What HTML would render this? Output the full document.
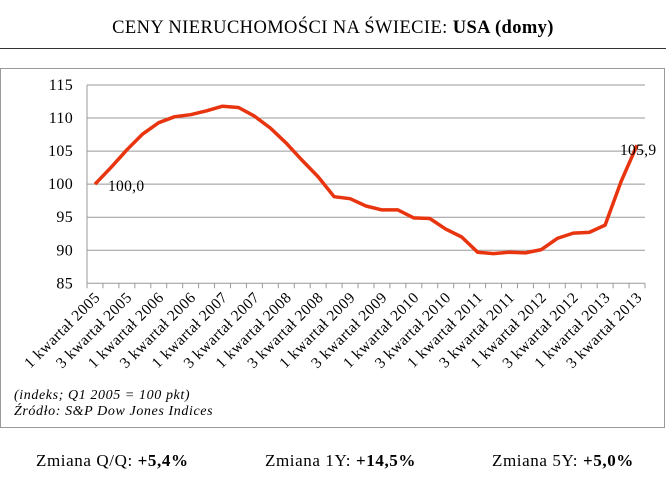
<!DOCTYPE html>
<html><head><meta charset="utf-8"><style>
body{margin:0;background:#fff;width:666px;height:479px;overflow:hidden;font-family:"Liberation Serif",serif;}
</style></head><body>
<svg width="666" height="479" xmlns="http://www.w3.org/2000/svg">
<text x="333" y="33" text-anchor="middle" font-size="18.5" letter-spacing="0.4">CENY NIERUCHOMOŚCI NA ŚWIECIE: <tspan font-weight="bold">USA (domy)</tspan></text>
<line x1="0" y1="48.5" x2="666" y2="48.5" stroke="#333" stroke-width="1"/>
<rect x="0.5" y="68.5" width="664" height="359" fill="none" stroke="#999"/>
<g id="grid"></g><g id="xlabels"></g>
<polyline id="series" fill="none" stroke="#e8340f" stroke-width="3.5" stroke-linejoin="round"/>
<text x="108" y="191" font-size="15.5" letter-spacing="0.3">100,0</text>
<text x="620" y="155" font-size="15.5" letter-spacing="0.3">105,9</text>
<text x="14" y="399" font-size="14" font-style="italic" letter-spacing="0.6">(indeks; Q1 2005 = 100 pkt)</text>
<text x="14" y="415" font-size="14" font-style="italic" letter-spacing="0.6">Źródło: S&amp;P Dow Jones Indices</text>
<text x="36" y="466" font-size="17" letter-spacing="0.6">Zmiana Q/Q: <tspan font-weight="bold">+5,4%</tspan></text>
<text x="265" y="466" font-size="17" letter-spacing="0.6">Zmiana 1Y: <tspan font-weight="bold">+14,5%</tspan></text>
<text x="492" y="466" font-size="17" letter-spacing="0.6">Zmiana 5Y: <tspan font-weight="bold">+5,0%</tspan></text>
</svg>
<script>
const categories=[];
for(let y=2005;y<=2013;y++){for(let q=1;q<=4;q++){if(y===2013&&q===4)break;categories.push(q+" kwartał "+y);}}
const values=[100.0,102.5,105.2,107.6,109.3,110.2,110.5,111.1,111.8,111.6,110.3,108.5,106.2,103.6,101.1,98.1,97.8,96.7,96.1,96.1,94.9,94.8,93.2,92.0,89.7,89.5,89.7,89.6,90.1,91.8,92.6,92.7,93.8,100.4,105.9];
const yTicks=[85,90,95,100,105,110,115];
const NS="http://www.w3.org/2000/svg";
const X0=87,X1=645,Y85=283.3,Y115=85;
const step=(X1-X0)/categories.length;
const xs=i=>X0+step*(i+0.5);
const ys=v=>Y85-(v-85)*(Y85-Y115)/30;
const grid=document.getElementById('grid');
function mk(tag,attrs,parent){const e=document.createElementNS(NS,tag);for(const k in attrs)e.setAttribute(k,attrs[k]);parent.appendChild(e);return e;}
yTicks.forEach(t=>{
 const l=mk('line',{x1:X0,x2:X1,y1:ys(t),y2:ys(t),stroke:'#999','stroke-width':1},grid);
 
 
 const tx=mk('text',{x:73,y:ys(t)+5,'text-anchor':'end','font-size':16,'letter-spacing':0.3},grid);
 tx.textContent=t;
 
 
});
const ax=mk('line',{x1:X0,x2:X0,y1:Y115,y2:Y85,stroke:'#999'},grid);


for(let i=0;i<=categories.length;i++){
 const t=mk('line',{x1:X0+step*i,x2:X0+step*i,y1:Y85,y2:Y85+5,stroke:'#999'},grid);
 
 
}
const xl=document.getElementById('xlabels');
categories.forEach((c,i)=>{
 if(i%2)return;
 const x=xs(i)+6,y=Y85+15;
 const t=mk('text',{x:x,y:y,'text-anchor':'end','font-size':15.5,'letter-spacing':0.5,transform:`rotate(-45 ${x} ${y})`},xl);
 t.textContent=c;
 
 
});
document.getElementById('series').setAttribute('points',values.map((v,i)=>xs(i).toFixed(1)+','+ys(v).toFixed(1)).join(' '));
</script>
</body></html>
